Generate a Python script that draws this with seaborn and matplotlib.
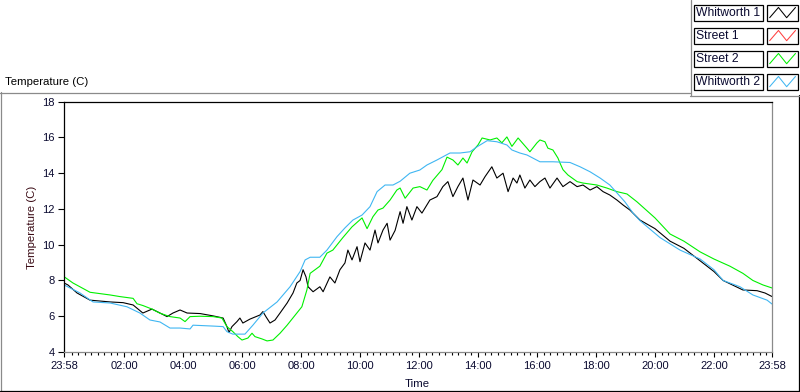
import numpy as np
import pandas as pd
import seaborn as sns
import matplotlib.pyplot as plt
from matplotlib.lines import Line2D
from matplotlib.patches import Rectangle

# series names / colours as in the legend
series_names = ["Whitworth 1", "Street 1", "Street 2", "Whitworth 2"]
series_colors = ["#000000", "#ff4040", "#00f000", "#3fb6f2"]

# hours after midnight (23:58 the evening before = -0.03)
w1_hours = [-0.03, 0.10, 0.41, 0.85, 1.53, 1.97, 2.31, 2.64, 2.95, 3.22,
            3.46, 3.66, 3.90, 4.14, 4.58, 5.02, 5.36, 5.49, 5.56, 5.66,
            5.83, 5.93, 6.03, 6.27, 6.61, 6.71, 6.81, 6.95, 7.12, 7.29,
            7.53, 7.73, 7.86, 7.97, 8.07, 8.17, 8.24, 8.41, 8.64, 8.75,
            8.98, 9.15, 9.32, 9.49, 9.59, 9.73, 9.90, 10.00, 10.17, 10.34,
            10.51, 10.61, 10.78, 10.92, 11.02, 11.19, 11.36, 11.46, 11.59, 11.76,
            11.93, 12.10, 12.37, 12.61, 12.81, 12.98, 13.15, 13.32, 13.49, 13.66,
            13.83, 14.07, 14.24, 14.47, 14.64, 14.85, 15.02, 15.19, 15.32, 15.42,
            15.59, 15.76, 15.93, 16.10, 16.27, 16.44, 16.68, 16.88, 17.12, 17.36,
            17.56, 17.80, 18.03, 18.24, 18.47, 18.71, 18.92, 19.15, 19.49, 20.00,
            20.51, 20.98, 21.53, 22.00, 22.31, 22.98, 23.46, 23.73, 23.97]
w1_temp = [7.86, 7.75, 7.3, 6.9, 6.8, 6.76, 6.63, 6.18, 6.4, 6.18,
           5.98, 6.18, 6.35, 6.18, 6.15, 6.02, 5.9, 5.42, 5.09, 5.42,
           5.7, 5.9, 5.62, 5.84, 6.07, 6.26, 5.98, 5.62, 5.79, 6.18,
           6.74, 7.3, 7.86, 8.0, 8.6, 8.2, 7.65, 7.37, 7.65, 7.37,
           8.2, 7.86, 8.6, 8.98, 9.7, 9.15, 9.89, 9.05, 10.1, 9.7,
           10.82, 10.1, 10.82, 11.2, 10.26, 10.8, 11.85, 11.2, 12.13, 11.38,
           12.13, 11.77, 12.5, 12.69, 13.25, 13.53, 12.69, 13.25, 13.73, 12.5,
           13.62, 13.34, 13.81, 14.36, 13.73, 14.0, 12.97, 13.73, 13.45, 13.9,
           13.17, 13.62, 13.25, 13.53, 13.73, 13.17, 13.73, 13.25, 13.53, 13.25,
           13.34, 13.06, 13.25, 12.97, 12.78, 12.5, 12.22, 11.94, 11.38, 10.9,
           10.2, 9.8, 9.1, 8.5, 8.0, 7.47, 7.43, 7.3, 7.1]

# Street 1 logged nothing on this day
s1_hours = []
s1_temp = []

s2_hours = [-0.03, 0.27, 0.85, 1.53, 1.86, 2.31, 2.44, 2.64, 2.95, 3.22,
            3.56, 3.90, 4.07, 4.24, 4.58, 5.02, 5.32, 5.49, 5.69, 5.86,
            6.00, 6.20, 6.34, 6.44, 6.68, 6.85, 7.05, 7.29, 7.53, 7.86,
            8.03, 8.20, 8.31, 8.64, 8.88, 9.08, 9.42, 9.73, 10.07, 10.24,
            10.44, 10.61, 10.78, 11.02, 11.25, 11.36, 11.53, 11.80, 12.03, 12.27,
            12.47, 12.78, 12.95, 13.15, 13.32, 13.49, 13.63, 13.80, 14.00, 14.14,
            14.41, 14.64, 14.81, 14.98, 15.15, 15.36, 15.66, 15.76, 16.00, 16.10,
            16.27, 16.37, 16.54, 16.71, 16.78, 16.88, 17.05, 17.36, 17.56, 18.03,
            18.37, 18.71, 19.05, 19.39, 20.00, 20.51, 20.98, 21.53, 22.00, 22.54,
            22.98, 23.32, 23.66, 23.97]
s2_temp = [8.21, 7.86, 7.34, 7.19, 7.1, 7.0, 6.7, 6.6, 6.4, 6.17,
           5.98, 5.9, 5.7, 5.98, 6.0, 5.98, 5.9, 5.42, 5.14, 4.86,
           4.67, 4.78, 5.05, 4.86, 4.73, 4.62, 4.67, 5.05, 5.5, 6.18,
           6.53, 7.47, 8.4, 8.8, 9.53, 9.7, 10.4, 11.0, 11.5, 10.9,
           11.57, 11.94, 12.05, 12.5, 13.06, 13.17, 12.6, 13.17, 13.25, 13.06,
           13.6, 14.2, 14.9, 14.74, 14.46, 14.85, 14.57, 15.2, 15.58, 15.97,
           15.86, 15.97, 15.7, 16.03, 15.5, 15.97, 15.4, 15.2, 15.7, 15.86,
           15.76, 15.4, 15.3, 14.85, 14.57, 14.2, 13.9, 13.53, 13.45, 13.34,
           13.17, 12.97, 12.84, 12.4, 11.5, 10.6, 10.2, 9.6, 9.2, 8.8,
           8.4, 8.0, 7.75, 7.58]

w2_hours = [-0.03, 0.51, 0.95, 1.53, 2.10, 2.54, 2.88, 3.22, 3.56, 3.90,
            4.24, 4.34, 5.02, 5.36, 5.49, 5.69, 6.10, 6.37, 6.71, 7.19,
            7.63, 7.97, 8.14, 8.31, 8.64, 8.88, 9.22, 9.49, 9.76, 10.07,
            10.34, 10.58, 10.85, 11.12, 11.36, 11.69, 12.03, 12.27, 12.61, 13.05,
            13.39, 13.73, 13.97, 14.31, 14.64, 14.98, 15.15, 15.42, 15.66, 16.10,
            16.54, 17.12, 17.46, 17.80, 18.14, 18.47, 18.71, 18.98, 19.25, 19.49,
            20.17, 20.85, 21.53, 22.00, 22.31, 22.88, 23.32, 23.80, 23.97]
w2_temp = [7.75, 7.3, 6.8, 6.74, 6.53, 6.18, 5.79, 5.68, 5.34, 5.34,
           5.29, 5.5, 5.45, 5.42, 5.14, 5.0, 5.0, 5.5, 6.18, 6.8,
           7.65, 8.5, 9.15, 9.3, 9.3, 9.7, 10.45, 10.94, 11.38, 11.66,
           12.13, 12.97, 13.34, 13.34, 13.55, 14.0, 14.18, 14.46, 14.74, 15.13,
           15.13, 15.2, 15.48, 15.82, 15.76, 15.58, 15.3, 15.13, 15.02, 14.64,
           14.64, 14.6, 14.36, 14.08, 13.73, 13.34, 12.9, 12.4, 11.78, 11.35,
           10.4, 9.7, 9.2, 8.6, 8.0, 7.65, 7.19, 6.9, 6.68]

tick_hours = [-0.0333, 2, 4, 6, 8, 10, 12, 14, 16, 18, 20, 22, 23.9667]
tick_labels = ["23:58", "02:00", "04:00", "06:00", "08:00", "10:00", "12:00",
               "14:00", "16:00", "18:00", "20:00", "22:00", "23:58"]
temp_ticks = [4, 6, 8, 10, 12, 14, 16, 18]

sns.set_theme(style="white")
plt.rcParams["font.family"] = ["Liberation Sans", "DejaVu Sans"]

W, H = 800, 392
fig = plt.figure(figsize=(W / 100, H / 100), dpi=100)
fig.patch.set_facecolor("white")
ax = fig.add_axes([64 / W, 1 - 352 / H, (772 - 64) / W, (352 - 101.7) / H])

frames = []
for name, hrs, tmp in [("Whitworth 1", w1_hours, w1_temp), ("Street 1", s1_hours, s1_temp),
                       ("Street 2", s2_hours, s2_temp), ("Whitworth 2", w2_hours, w2_temp)]:
    frames.append(pd.DataFrame({"hours": hrs, "temp": tmp, "series": name}))
df = pd.concat([f for f in frames if len(f)], ignore_index=True)

palette = dict(zip(series_names, series_colors))
plotted = [n for n in series_names if n in df["series"].unique()]
sns.lineplot(data=df, x="hours", y="temp", hue="series", hue_order=plotted,
             palette=palette, estimator=None, sort=False, legend=False,
             linewidth=0.8, ax=ax)

ax.set_xlim(tick_hours[0], tick_hours[-1])
ax.set_ylim(temp_ticks[0], temp_ticks[-1])
ax.set_xticks(tick_hours)
ax.set_xticklabels(tick_labels)
minor = [k * 2 / 9 for k in range(1, 108) if k % 9 != 0]
ax.set_xticks(minor, minor=True)
ax.set_yticks(temp_ticks)
ax.set_yticklabels([str(t) for t in temp_ticks])
ax.set_xlabel("")
ax.set_ylabel("")

lab_col = "#0a0a30"
ax.tick_params(axis="x", which="major", direction="out", length=3.6, width=0.8,
               color="black", labelsize=8, labelcolor=lab_col, pad=3, bottom=True)
ax.tick_params(axis="x", which="minor", direction="out", length=1.8, width=0.8,
               color="black", bottom=True)
ax.tick_params(axis="y", which="major", direction="out", length=4.3, width=0.8,
               color="black", labelsize=8, labelcolor=lab_col, pad=2.5, left=True)

for side, col in [("left", "black"), ("top", "black"), ("right", "#8a8a8a"), ("bottom", "#8a8a8a")]:
    ax.spines[side].set_visible(True)
    ax.spines[side].set_color(col)
    ax.spines[side].set_linewidth(0.9)

fig.text(32 / W, 1 - 227 / H, "Temperature (C)", rotation=90, ha="center", va="center",
         fontsize=8.2, color="#3a0a14")
fig.text(417 / W, 1 - 384 / H, "Time", ha="center", va="center", fontsize=8.2, color=lab_col)
fig.text(5 / W, 1 - 82 / H, "Temperature (C)", ha="left", va="center", fontsize=8.2, color="black")


def px_line(xs, ys, color, lw=0.9):
    fig.add_artist(Line2D([x / W for x in xs], [1 - y / H for y in ys],
                          transform=fig.transFigure, color=color, linewidth=lw))


# outer panel frame
px_line([0, 690], [92.5, 92.5], "#8a8a8a")
px_line([0.5, 0.5], [92, 391], "#8a8a8a")
px_line([0, 799], [390.5, 390.5], "black")
px_line([798.5, 798.5], [95, 391], "black")
px_line([690.5, 690.5], [0, 95.5], "#8a8a8a")
px_line([690, 800], [95.5, 95.5], "#8a8a8a")

# legend: name box + zigzag swatch box
zig_x = [0.1, 0.38, 0.64, 0.92]
zig_y = [0.8, 0.18, 0.8, 0.18]
for i, (name, col) in enumerate(zip(series_names, series_colors)):
    top = 4.5 + 23 * i
    bot = top + 16.5
    fig.add_artist(Rectangle((693.5 / W, 1 - bot / H), 69 / W, 16.5 / H, fill=False,
                             edgecolor="black", linewidth=0.9, transform=fig.transFigure))
    fig.add_artist(Rectangle((766.5 / W, 1 - bot / H), 31.5 / W, 16.5 / H, fill=False,
                             edgecolor="black", linewidth=0.9, transform=fig.transFigure))
    fig.text(695.5 / W, 1 - (top + 8.5) / H, name, ha="left", va="center", fontsize=8.7,
             color=lab_col)
    px_line([766.5 + 31.5 * zx for zx in zig_x], [top + 16.5 * zy for zy in zig_y], col, lw=0.75)

fig.savefig("out.png", dpi=100, facecolor="white")
